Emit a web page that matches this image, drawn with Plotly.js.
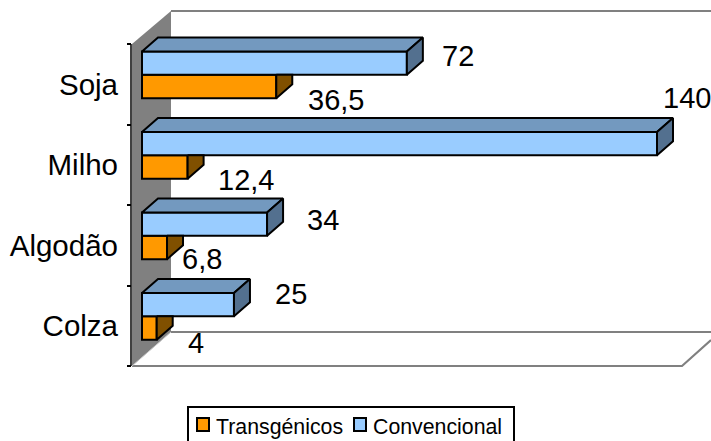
<!DOCTYPE html>
<html><head><meta charset="utf-8">
<script src="https://cdn.plot.ly/plotly-3.0.1.min.js"></script>
<style>html,body{margin:0;padding:0;background:#fff}</style></head>
<body><div id="chart" style="width:711px;height:441px"></div>
<script>
const categories = ["Soja","Milho","Algodão","Colza"];
const transgenicos = [36.5,12.4,6.8,4];
const convencional = [72,140,34,25];
const labelsTrans = ["36,5","12,4","6,8","4"];
const labelsConv = ["72","140","34","25"];
const seriesNames = ["Transgénicos","Convencional"];
const seriesColors = ["#FF9900","#99CCFF"];

// Pixel geometry of the figure
const W=711,H=441,L=132;
const x0Px=142, pxPerUnit=515/140;
const yC0=84.5, pxPerCat=80.5;
const depthX=16/pxPerUnit, depthY=14/pxPerCat;
const xRange=[(L-x0Px)/pxPerUnit,(W-x0Px)/pxPerUnit];
const yRange=[(H-yC0)/pxPerCat,(0-yC0)/pxPerCat];
const idx=categories.map((_,i)=>i);
const blueOff=-0.41, orangeOff=-0.12, barW=0.29;
const px=(x,y)=>[(x-L)/(W-L),1-y/H];
const NOFILL='rgba(0,0,0,0)';
const poly=(pts,fill,lineC,lineW,layer)=>{
  const p=pts.map(q=>px(q[0],q[1]));
  return {type:'path',xref:'paper',yref:'paper',layer:layer||'below',fillcolor:fill,
    line:{color:lineC||fill,width:lineW||0},
    path:'M'+p.map(q=>q[0]+','+q[1]).join('L')+(fill===NOFILL?'':'Z')};
};
const gridC='#808080';
const shapes=[
  poly([[132,44],[171,11],[171,332],[132,366]],gridC),
  poly([[171,11],[711,11]],NOFILL,gridC,2.2),
  poly([[171,332],[711,332]],NOFILL,gridC,2.2),
  poly([[132,366],[682,366],[711,340]],NOFILL,gridC,2.2),
  poly([[132,366],[171,332]],NOFILL,'#c8c8c8',1),
  poly([[131,44],[131,366]],NOFILL,'#000',1.5),
  // legend box and swatches (the box runs off the bottom edge as in the reference)
  poly([[188,407],[514,407],[514,445],[188,445]],'#fff','#000',2),
  poly([[197,418],[209,418],[209,431],[197,431]],seriesColors[0],'#000',2),
  poly([[354,418],[366,418],[366,431],[354,431]],seriesColors[1],'#000',2)
];
function faces(vals,build){
  const xs=[],ys=[];
  vals.forEach((v,i)=>{build(v,i).forEach(q=>{xs.push(q[0]);ys.push(q[1]);});xs.push(null);ys.push(null);});
  return {x:xs,y:ys};
}
function faceTrace(f,color){
  return {type:'scatter',mode:'lines',x:f.x,y:f.y,fill:'toself',fillcolor:color,
    line:{color:'#000',width:2},hoverinfo:'skip',showlegend:false};
}
const blueTop=faces(convencional,(v,i)=>{const t=i+blueOff;
  return [[0,t],[v,t],[v+depthX,t-depthY],[depthX,t-depthY],[0,t]];});
const blueSide=faces(convencional,(v,i)=>{const t=i+blueOff,b=t+barW;
  return [[v,t],[v+depthX,t-depthY],[v+depthX,b-depthY],[v,b],[v,t]];});
const orangeSide=faces(transgenicos,(v,i)=>{const t=i+orangeOff,b=t+barW;
  return [[v,t],[v+depthX,t],[v+depthX,b-depthY],[v,b],[v,t]];});
const traces=[
  {type:'bar',orientation:'h',name:seriesNames[0],x:transgenicos,y:idx,base:0,offset:orangeOff,width:barW,
   marker:{color:seriesColors[0],line:{color:'#000',width:2}},hoverinfo:'x+name',showlegend:false},
  {type:'bar',orientation:'h',name:seriesNames[1],x:convencional,y:idx,base:0,offset:blueOff,width:barW,
   marker:{color:seriesColors[1],line:{color:'#000',width:2}},hoverinfo:'x+name',showlegend:false},
  faceTrace(blueTop,'#7399BF'),
  faceTrace(blueSide,'#53708F'),
  faceTrace(orangeSide,'#805000')
];
const labelFont={family:'"Liberation Sans",Arial,sans-serif',size:29,color:'#000'};
const shiftsConv=[[51,28.5],[30,67],[56,25.5],[57,32]];
const shiftsTrans=[[60,-15.5],[58,-15],[35,-13.5],[39,-17]];
const ann=[];
idx.forEach(i=>{
  ann.push({x:convencional[i],y:i,text:labelsConv[i],showarrow:false,xanchor:'center',yanchor:'middle',
    xshift:shiftsConv[i][0],yshift:shiftsConv[i][1],font:labelFont});
  ann.push({x:transgenicos[i],y:i,text:labelsTrans[i],showarrow:false,xanchor:'center',yanchor:'middle',
    xshift:shiftsTrans[i][0],yshift:shiftsTrans[i][1],font:labelFont});
});
const legendFont={family:'"Liberation Sans",Arial,sans-serif',size:21.3,color:'#000'};
[[216,0],[373,1]].forEach(([xp,s])=>{
  const q=px(xp,427);
  ann.push({xref:'paper',yref:'paper',x:q[0],y:q[1],text:seriesNames[s],showarrow:false,xanchor:'left',yanchor:'middle',borderpad:0,borderwidth:0,font:legendFont});
});
const layout={
  width:W,height:H,margin:{l:L,r:0,t:0,b:0},showlegend:false,barmode:'overlay',
  paper_bgcolor:'#fff',plot_bgcolor:NOFILL,
  font:{family:'"Liberation Sans",Arial,sans-serif',color:'#000'},
  xaxis:{range:xRange,visible:false,fixedrange:true},
  yaxis:{range:yRange,tickmode:'array',tickvals:idx,ticktext:categories,ticks:'',showgrid:false,zeroline:false,showline:false,
    tickfont:{size:29.5,color:'#000'},ticklabelstandoff:13,fixedrange:true,
    minor:{tickmode:'array',tickvals:[-0.5,0.5,1.5,2.5,3.5],ticks:'outside',ticklen:4,tickwidth:1.5,tickcolor:'#000',showgrid:false}},
  shapes:shapes,annotations:ann
};
Plotly.newPlot('chart',traces,layout,{displayModeBar:false,responsive:false});
</script></body></html>
